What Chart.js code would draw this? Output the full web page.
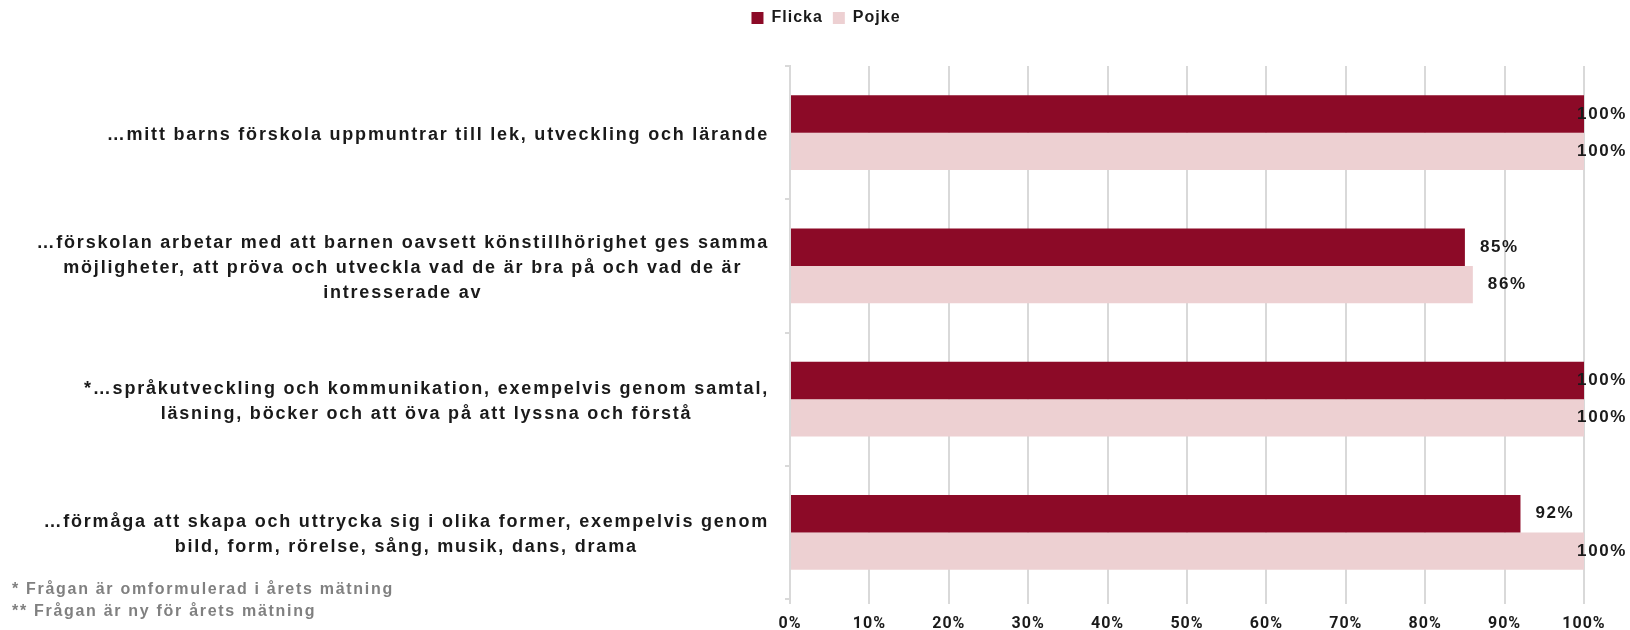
<!DOCTYPE html>
<html>
<head>
<meta charset="utf-8">
<script src="https://cdn.jsdelivr.net/npm/chart.js@4.4.1/dist/chart.umd.min.js"></script>
<style>
  html, body { margin: 0; padding: 0; background: #fff; }
  #wrap { position: relative; width: 1630px; height: 630px; }
</style>
</head>
<body>
<div id="wrap"><canvas id="chart" width="1630" height="630"></canvas></div>
<script>
// data
const categories = [
  ['…mitt barns förskola uppmuntrar till lek, utveckling och lärande'],
  ['…förskolan arbetar med att barnen oavsett könstillhörighet ges samma', 'möjligheter, att pröva och utveckla vad de är bra på och vad de är', 'intresserade av'],
  ['*…språkutveckling och kommunikation, exempelvis genom samtal,', 'läsning, böcker och att öva på att lyssna och förstå'],
  ['…förmåga att skapa och uttrycka sig i olika former, exempelvis genom', 'bild, form, rörelse, sång, musik, dans, drama']
];
const flicka = [100, 85, 100, 92];
const pojke = [100, 86, 100, 100];
const footnotes = ['* Frågan är omformulerad i årets mätning', '** Frågan är ny för årets mätning'];

const labelFont = 'bold 18px "Liberation Sans"';
const textColor = '#1a1a1a';

(function(){
  const ctx = document.getElementById('chart');

  const extras = {
    id: 'extras',
    afterInit(chart) {
      const lg = chart.legend;
      const fit = lg.fit.bind(lg);
      lg.fit = function(){ fit(); this.height = 66; };
    },
    beforeLayout(chart) { chart.ctx.letterSpacing = '1px'; },
    beforeDraw(chart) { chart.ctx.letterSpacing = '1px'; },
    afterDraw(chart) {
      const c = chart.ctx;
      const y = chart.scales.y;
      c.save();
      c.letterSpacing = '1.8px';
      c.font = labelFont;
      c.fillStyle = textColor;
      c.textBaseline = 'middle';
      c.textAlign = 'center';
      // category labels: block right aligned, lines centred
      categories.forEach((lines, i) => {
        const cy = y.getPixelForTick(i) + 2.5;
        const w = Math.max(...lines.map(l => c.measureText(l).width));
        const cx = y.right - 21 - w / 2;
        const lh = 25;
        lines.forEach((l, j) => {
          c.fillText(l, cx, cy + (j - (lines.length - 1) / 2) * lh);
        });
      });
      // value labels
      c.textAlign = 'left';
      c.font = 'bold 17px "Liberation Sans"';
      c.letterSpacing = '1.6px';
      chart.data.datasets.forEach((ds, di) => {
        chart.getDatasetMeta(di).data.forEach((bar, i) => {
          const txt = ds.data[i] + '%';
          const w = c.measureText(txt).width;
          let x = bar.x + 15;
          if (x + w > chart.width - 3) x = chart.width - 3 - w;
          c.fillText(txt, x, bar.y);
        });
      });
      // footnotes
      c.font = 'bold 16px "Liberation Sans"';
      c.fillStyle = '#808080';
      c.letterSpacing = '1.7px';
      footnotes.forEach((f, i) => c.fillText(f, 12, 590 + i * 22));
      c.restore();
    }
  };

  new Chart(ctx, {
    type: 'bar',
    data: {
      labels: categories,
      datasets: [
        { label: 'Flicka', data: flicka, backgroundColor: '#8C0A27', categoryPercentage: 0.56, barPercentage: 1 },
        { label: 'Pojke', data: pojke, backgroundColor: '#EDD0D2', categoryPercentage: 0.56, barPercentage: 1 }
      ]
    },
    options: {
      indexAxis: 'y',
      responsive: false,
      animation: false,
      layout: { padding: { left: 68, right: 46, top: 0, bottom: 0 } },
      plugins: {
        tooltip: { enabled: false },
        legend: {
          position: 'top',
          labels: {
            boxWidth: 12, boxHeight: 12, padding: 10,
            color: textColor,
            font: { family: 'Liberation Sans', size: 16, weight: 'bold' }
          }
        }
      },
      scales: {
        x: {
          min: 0, max: 100,
          afterFit(s) { s.height = 31; },
          ticks: {
            stepSize: 10, padding: 10,
            color: textColor,
            font: { family: 'Roboto', size: 16, weight: 'bold' },
            callback: v => v + '%'
          },
          grid: { color: '#d9d9d9', lineWidth: 2, tickLength: 5 },
          border: { display: false }
        },
        y: {
          afterFit(s) { s.width = 790 - 68; },
          ticks: { display: false },
          grid: { offset: true, drawOnChartArea: false, drawTicks: true, tickLength: 5, color: '#d9d9d9', lineWidth: 2 },
          border: { display: true, color: '#d9d9d9', width: 2 }
        }
      }
    },
    plugins: [extras]
  });
})();
</script>
</body>
</html>
